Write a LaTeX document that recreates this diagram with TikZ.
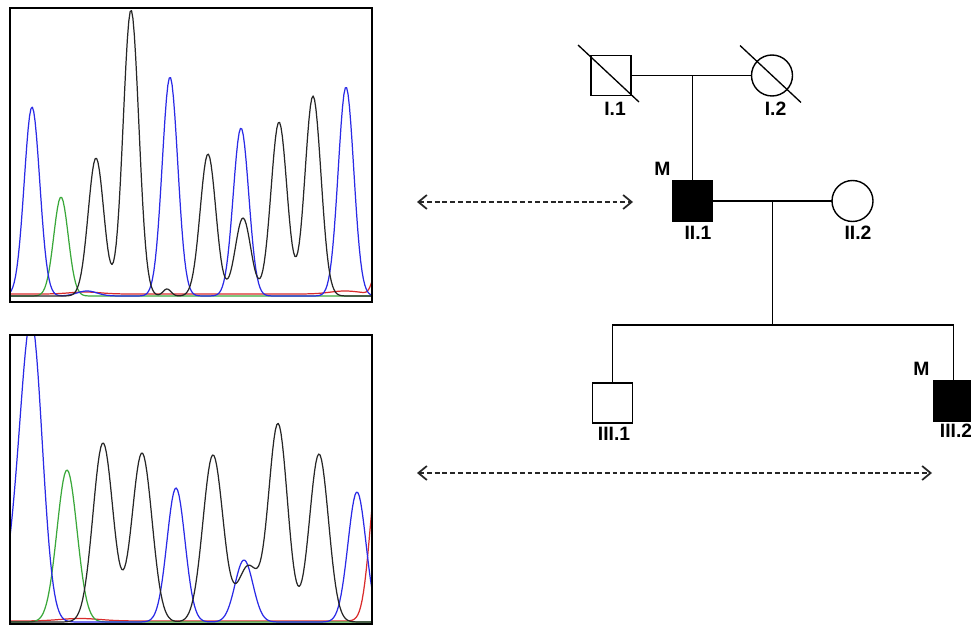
\documentclass[tikz,border=0pt]{standalone}
\usepackage{fontspec}
\setmainfont{Liberation Sans}
\usetikzlibrary{positioning,calc,arrows.meta}

\definecolor{c2a2ae6}{RGB}{42,42,230}
\definecolor{c3aa83a}{RGB}{58,168,58}
\definecolor{c262626}{RGB}{38,38,38}
\definecolor{cd92b2b}{RGB}{217,43,43}
\def \globalscale {1.000000}

\tikzset{
  male/.style={rectangle, draw=black, line width=0.8pt, minimum size=0.8cm},
  female/.style={circle, draw=black, line width=0.8pt, minimum size=0.82cm},
  affected/.style={fill=black},
  tag/.style={font=\fontsize{11}{13}\selectfont\bfseries, text=black},
  kin/.style={draw=black, line width=0.75pt},
  trace/.style={line width=0.7pt, line join=round},
  link/.style={{Straight Barb[length=1.7mm,width=2.8mm,line width=1pt]}-{Straight Barb[length=1.7mm,width=2.8mm,line width=1pt]},
    draw=c262626, line width=0.7pt, dash pattern=on 2.8pt off 1.6pt},
}

\begin{document}
\begin{tikzpicture}[y=1cm, x=1cm, yscale=\globalscale,xscale=\globalscale, every node/.append style={scale=\globalscale}, inner sep=0pt, outer sep=0pt,
  declare function={pk(\t,\c,\h,\s)=\h*exp(-0.5*min(((\t-\c)/\s)*((\t-\c)/\s),40));}]
  \useasboundingbox (0,0) rectangle (19.42,12.58);

  % upper trace
  \begin{scope}
    \clip (0.2,6.54) rectangle (7.44,12.42);
    \path[draw=cd92b2b,trace] plot[domain=0.2:7.44,samples=260] (\x,{6.70+pk(\x,7.52,0.40,0.08)+pk(\x,1.7,0.04,0.3)+pk(\x,6.9,0.06,0.3)});

    \path[draw=c3aa83a,trace] plot[domain=0.2:7.44,samples=260] (\x,{6.66+pk(\x,1.22,1.98,0.145)});

    \path[draw=c2a2ae6,trace] plot[domain=0.2:7.44,samples=260] (\x,{6.66+pk(\x,0.64,3.78,0.155)+pk(\x,1.74,0.10,0.20)+pk(\x,3.40,4.38,0.155)+pk(\x,4.82,3.36,0.155)+pk(\x,6.92,4.18,0.155)});

    \path[draw=c262626,trace] plot[domain=0.2:7.44,samples=260] (\x,{6.66+pk(\x,1.92,2.76,0.156)+pk(\x,2.62,5.72,0.156)+pk(\x,3.34,0.14,0.08)+pk(\x,4.16,2.84,0.156)+pk(\x,4.86,1.56,0.156)+pk(\x,5.58,3.48,0.16)+pk(\x,6.26,4.00,0.16)});
  \end{scope}
  \path[draw=black,line width=1.1pt] (0.2,6.54) rectangle (7.44,12.42);



  % lower trace
  \begin{scope}
    \clip (0.2,0.10) rectangle (7.44,5.88);
    \path[draw=cd92b2b,trace] plot[domain=0.2:7.44,samples=260] (\x,{0.16+pk(\x,7.56,3.0,0.16)+pk(\x,1.6,0.05,0.4)});

    \path[draw=c3aa83a,trace] plot[domain=0.2:7.44,samples=260] (\x,{0.14+pk(\x,1.34,3.04,0.20)});

    \path[draw=c2a2ae6,trace] plot[domain=0.2:7.44,samples=260] (\x,{0.14+pk(\x,0.64,5.74,0.21)+pk(\x,0.30,1.2,0.2)+pk(\x,3.52,2.68,0.18)+pk(\x,4.88,1.24,0.18)+pk(\x,7.14,2.60,0.18)});

    \path[draw=c262626,trace] plot[domain=0.2:7.44,samples=260] (\x,{0.14+pk(\x,2.06,3.58,0.20)+pk(\x,2.84,3.38,0.20)+pk(\x,4.26,3.34,0.20)+pk(\x,4.96,1.10,0.20)+pk(\x,5.56,3.96,0.19)+pk(\x,6.38,3.36,0.19)});
  \end{scope}
  \path[draw=black,line width=1.1pt] (0.2,0.10) rectangle (7.44,5.88);



  % pedigree
  \node[male] (i1) at (12.22,11.07) {};
  \node[female] (i2) at (15.44,11.07) {};
  \node[male,affected] (ii1) at (13.85,8.56) {};
  \node[female] (ii2) at (17.05,8.56) {};
  \node[male] (iii1) at (12.25,4.52) {};
  \node[male,affected] (iii2) at (19.07,4.56) {};

  \path[kin] ([shift={(-0.66,0.61)}]i1.center) -- ([shift={(0.56,-0.53)}]i1.center);
  \path[kin] ([shift={(-0.64,0.60)}]i2.center) -- ([shift={(0.58,-0.54)}]i2.center);

  \path[kin] (i1) -- (i2);
  \path[kin] (ii1.north |- i1.east) -- (ii1.north);
  \path[kin] (ii1) -- (ii2);
  \coordinate (c2) at ($(ii1.east)!0.5!(ii2.west)$);
  \coordinate[below=2.48cm of c2] (s0);
  \path[kin] (c2) -- (s0);
  \path[kin] (iii1.north) |- (s0) -| (iii2.north);

  \node[tag, below=0.14cm of i1, xshift=0.08cm] (t1) {I.1};
  \node[tag, below=0.12cm of i2, xshift=0.07cm] (t2) {I.2};
  \node[tag, below=0.10cm of ii1, xshift=0.11cm] (t3) {II.1};
  \node[tag, below=0.10cm of ii2, xshift=0.11cm] (t4) {II.2};
  \node[tag, below=0.08cm of iii1, xshift=0.03cm] (t5) {III.1};
  \node[tag, below=0.06cm of iii2, xshift=0.05cm] (t6) {III.2};
  \node[tag, above left=0.10cm and 0.04cm of ii1.north west] (m1) {M};
  \node[tag, above left=0.10cm and 0.08cm of iii2.north west] (m2) {M};



  % links
  \coordinate (a1) at (8.34,8.54);
  \coordinate (a2) at (12.66,8.54);
  \path[link] (a1) -- (a2);

  \coordinate (b1) at (8.34,3.12);
  \coordinate (b2) at (18.64,3.12);
  \path[link] (b1) -- (b2);

\end{tikzpicture}
\end{document}
